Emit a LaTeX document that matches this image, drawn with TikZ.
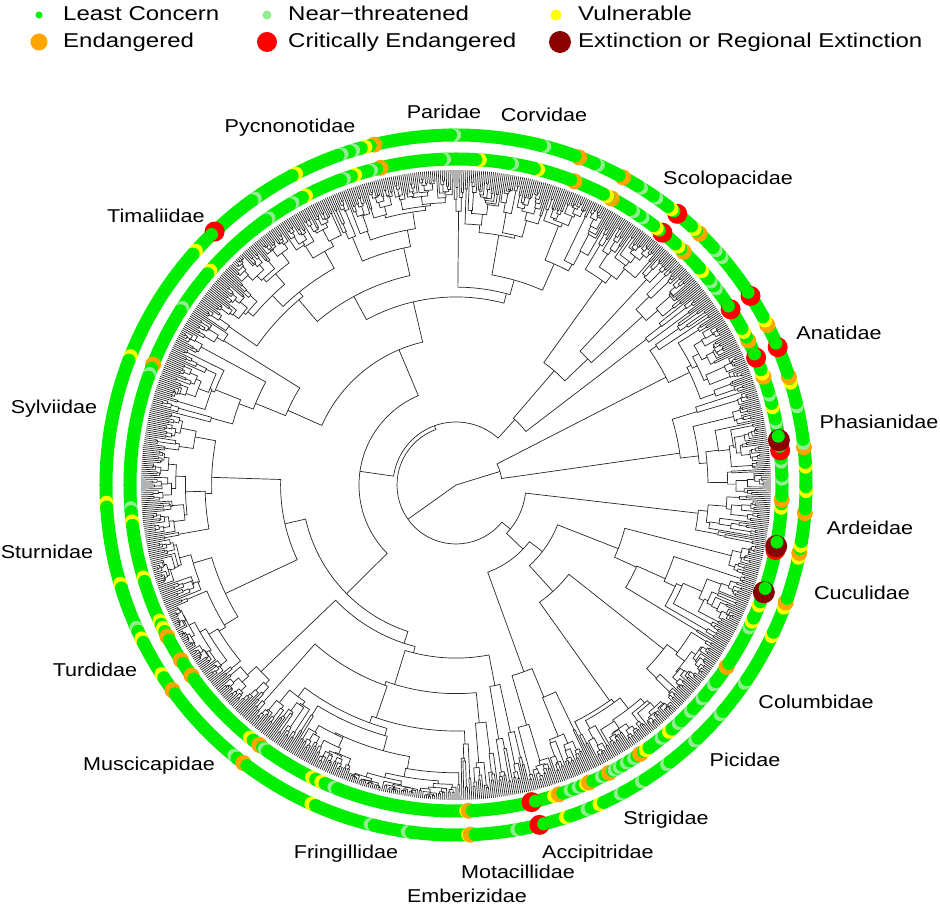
\documentclass[tikz,border=0pt]{standalone}
\usepackage{fontspec}
\setmainfont{Liberation Sans}
\usepackage{graphicx}
\definecolor{lc}{HTML}{00EE00}
\definecolor{nt}{HTML}{90EE90}
\definecolor{vu}{HTML}{FFFF00}
\definecolor{en}{HTML}{FFA500}
\definecolor{cr}{HTML}{FF0000}
\definecolor{ex}{HTML}{8B0000}
\newcommand\legfont{\fontsize{20}{24}\selectfont}
\newcommand\labfont{\fontsize{18.6}{22}\selectfont}
\def\drnt{6.5}\def\drvu{7}\def\dren{8}\def\drcr{10}\def\drex{11}
% random clade: #1 first tip index, #2 number of tips, #3 node radius
\newcommand\cladeDraw[3]{%
  \ifnum#2>1\relax
  \begingroup
    \pgfmathsetmacro\cu{rnd<0.55 ? (rnd<0.5 ? 0.03+0.2*rnd : 0.77+0.2*rnd) : 0.3+0.4*rnd}%
    \pgfmathtruncatemacro\cnA{max(1,min(#2-1,round(#2*\cu)))}%
    \pgfmathtruncatemacro\cnB{#2-\cnA}%
    \pgfmathtruncatemacro\caB{#1+\cnA}%
    \ifnum\cnA=1 \def\crA{315}\else\pgfmathsetmacro\crA{max(#3+(315-#3)*(0.03+0.3*rnd),315-20*(\cnA^0.45)*(0.4+1.2*rnd))}\fi
    \ifnum\cnB=1 \def\crB{315}\else\pgfmathsetmacro\crB{max(#3+(315-#3)*(0.03+0.3*rnd),315-20*(\cnB^0.45)*(0.4+1.2*rnd))}\fi
    \pgfmathsetmacro\ctA{36-0.36*(#1+(\cnA-1)/2)}%
    \pgfmathsetmacro\ctB{36-0.36*(\caB+(\cnB-1)/2)}%
    \draw[treeline] (\ctA:\crA) -- (\ctA:#3) arc[start angle=\ctA, end angle=\ctB, radius=#3pt] -- (\ctB:\crB);
    \edef\cnext{\noexpand\cladeDraw{#1}{\cnA}{\crA}\noexpand\cladeDraw{\caB}{\cnB}{\crB}}%
    \cnext
  \endgroup
  \fi}
% fixed split: #1 first idx, #2 nA, #3 nB, #4 radius, #5 rA, #6 rB
\newcommand\cladePair[6]{%
  \begingroup
  \pgfmathtruncatemacro\caB{#1+#2}%
  \pgfmathsetmacro\ctA{36-0.36*(#1+(#2-1)/2)}%
  \pgfmathsetmacro\ctB{36-0.36*(\caB+(#3-1)/2)}%
  \draw[treeline] (\ctA:#5) -- (\ctA:#4) arc[start angle=\ctA, end angle=\ctB, radius=#4pt] -- (\ctB:#6);
  \edef\cnext{\noexpand\cladeDraw{#1}{#2}{#5}\noexpand\cladeDraw{\caB}{#3}{#6}}\cnext
  \endgroup}
\newcommand\ringDots[2]{%
  \foreach \dang/\dcol in {#2}{%
    \fill[\dcol] (\dang:#1) circle[radius=\csname dr\dcol\endcsname pt];
    \fill[lc] (\dang+0.7:#1) circle[radius=6.5pt];}}
\begin{document}
\begin{tikzpicture}[x=1pt,y=1pt,
  treeline/.style={line width=0.7pt, draw=black!85},
  lab/.style={font=\labfont, inner sep=0pt, anchor=base},
  leg/.style={font=\legfont, inner sep=0pt, anchor=base west}]
\useasboundingbox (-456,-422) rectangle (484,485);
\pgfmathsetseed{2718}
% ---------- tree ----------
\coordinate (root) at (0,0);
\draw[treeline] (root) -- (17.1:46);
\draw[treeline] (root) -- (-144.54:59);
\cladePair{0}{50}{56}{46}{236}{226}
\draw[treeline] (-39.06:70) -- (-39.06:59) arc[start angle=-39.06, end angle=-250.02, radius=59pt] -- (-250.02:63);
\draw[treeline] (-188.1:97) -- (-188.1:63) arc[start angle=-188.1, end angle=-311.94, radius=63pt] -- (-311.94:88);
\cladeDraw{106}{206}{70}
\cladeDraw{312}{622}{97}
\cladeDraw{934}{66}{88}
% ---------- rings ----------
\draw[lc, line width=13pt] (root) circle[radius=326pt];
\draw[lc, line width=13pt] (root) circle[radius=350pt];
\ringDots{350}{-88.0/vu,-87.6/en,-80/nt,-76.2/cr,-71.7/vu,-68/nt,-65.8/vu,-62/nt,-58/nt,-53/nt,-47/nt,-41/nt,-34.5/nt,-25.6/vu,-20.5/vu,-19.6/en,-12/vu,-11.2/en,-10/vu,-4.6/en,-1/vu,3/vu,6.2/en,6.8/nt,12.9/nt,17/vu,18/en,23.2/cr,27.2/en,28/vu,32.7/cr,40.5/nt,42/nt,45.9/en,47/vu,50.8/cr,52/vu,55/nt,58/nt,61.5/en,66/nt,69.4/en,75.3/nt,90.2/nt,103.5/en,105/vu,107/nt,109/nt,117.2/vu,125/nt,133.6/cr,138/vu,158.4/vu,182.9/vu,196.4/vu,204/nt,206/vu,212.7/vu,215.9/en,230.6/nt,232.6/en,245.6/vu,255.8/nt,262/nt}
\ringDots{326}{-88.2/vu,-87.8/en,-76.6/cr,-72.5/vu,-71.6/en,-69.5/nt,-68/nt,-66.5/vu,-65.9/en,-63.5/nt,-62/en,-61/nt,-60/nt,-58.5/nt,-57/nt,-55.6/en,-54.4/vu,-51/nt,-49.2/vu,-47/nt,-44/nt,-41/nt,-37.8/nt,-33.9/en,-26/nt,-24.8/vu,-21.7/vu,-19.2/ex,-11.5/cr,-10.8/ex,-4/vu,-2.6/en,1/nt,4/nt,6.1/cr,7.9/ex,11/nt,13.8/vu,16/nt,19.4/en,20/vu,23/cr,26.3/en,28/vu,32.6/cr,37/nt,38.5/nt,41/vu,45.7/en,47/vu,50.7/cr,52/vu,55/nt,57/nt,61.5/en,62.4/vu,68.7/en,75.4/vu,80/nt,85.8/vu,92/nt,103.4/en,105/nt,108/vu,110/nt,117.4/vu,120/nt,125/nt,138.9/vu,147/nt,158.3/en,160/nt,184/nt,186.4/vu,196.5/vu,204.6/vu,206/vu,207.7/en,212.5/en,215.8/en,230.8/vu,232.9/en,234/nt,243.8/vu,245.6/vu,248/nt}
% ---------- labels ----------
\node[lab] (tPhas) at (423,56.3) {\scalebox{1.16}[1]{Phasianidae}};
\node[lab] (tAnat) at (383,145.3) {\scalebox{1.16}[1]{Anatidae}};
\node[lab] (tArde) at (414,-49.7) {\scalebox{1.16}[1]{Ardeidae}};
\node[lab] (tCucu) at (406,-114.7) {\scalebox{1.16}[1]{Cuculidae}};
\node[lab] (tScol) at (272,300.3) {\scalebox{1.16}[1]{Scolopacidae}};
\node[lab] (tColu) at (360,-223.7) {\scalebox{1.16}[1]{Columbidae}};
\node[lab] (tPici) at (289,-281.7) {\scalebox{1.16}[1]{Picidae}};
\node[lab] (tStri) at (210,-339.7) {\scalebox{1.16}[1]{Strigidae}};
\node[lab] (tAcci) at (142,-373.7) {\scalebox{1.16}[1]{Accipitridae}};
\node[lab] (tMota) at (62,-393.7) {\scalebox{1.16}[1]{Motacillidae}};
\node[lab] (tEmbe) at (11,-417.7) {\scalebox{1.16}[1]{Emberizidae}};
\node[lab] (tFrin) at (-110,-373.7) {\scalebox{1.16}[1]{Fringillidae}};
\node[lab] (tMusc) at (-307,-285) {\scalebox{1.16}[1]{Muscicapidae}};
\node[lab] (tTurd) at (-361,-191.7) {\scalebox{1.16}[1]{Turdidae}};
\node[lab] (tStur) at (-409,-73.7) {\scalebox{1.16}[1]{Sturnidae}};
\node[lab] (tSylv) at (-402,71.3) {\scalebox{1.16}[1]{Sylviidae}};
\node[lab] (tTima) at (-300,262) {\scalebox{1.16}[1]{Timaliidae}};
\node[lab] (tPycn) at (-166,352.3) {\scalebox{1.16}[1]{Pycnonotidae}};
\node[lab] (tPari) at (-12,366) {\scalebox{1.16}[1]{Paridae}};
\node[lab] (tCorv) at (88,363) {\scalebox{1.16}[1]{Corvidae}};
% ---------- legend ----------
\fill[lc] (-417,470) circle[radius=3.5pt];
\node[leg] (gLC) at (-393,464.3) {\scalebox{1.2}[1]{Least Concern}};
\fill[nt] (-189,470) circle[radius=4.5pt];
\node[leg] (gNT) at (-168,464.3) {\scalebox{1.2}[1]{Near−threatened}};
\fill[vu] (100,470) circle[radius=5.5pt];
\node[leg] (gVU) at (122,464.3) {\scalebox{1.2}[1]{Vulnerable}};
\fill[en] (-417,443) circle[radius=8.5pt];
\node[leg] (gEN) at (-393,437) {\scalebox{1.2}[1]{Endangered}};
\fill[cr] (-189,443) circle[radius=10pt];
\node[leg] (gCR) at (-168,437) {\scalebox{1.2}[1]{Critically Endangered}};
\fill[ex] (104,443) circle[radius=11pt];
\node[leg] (gEX) at (122,437) {\scalebox{1.2}[1]{Extinction or Regional Extinction}};
\end{tikzpicture}
\end{document}
